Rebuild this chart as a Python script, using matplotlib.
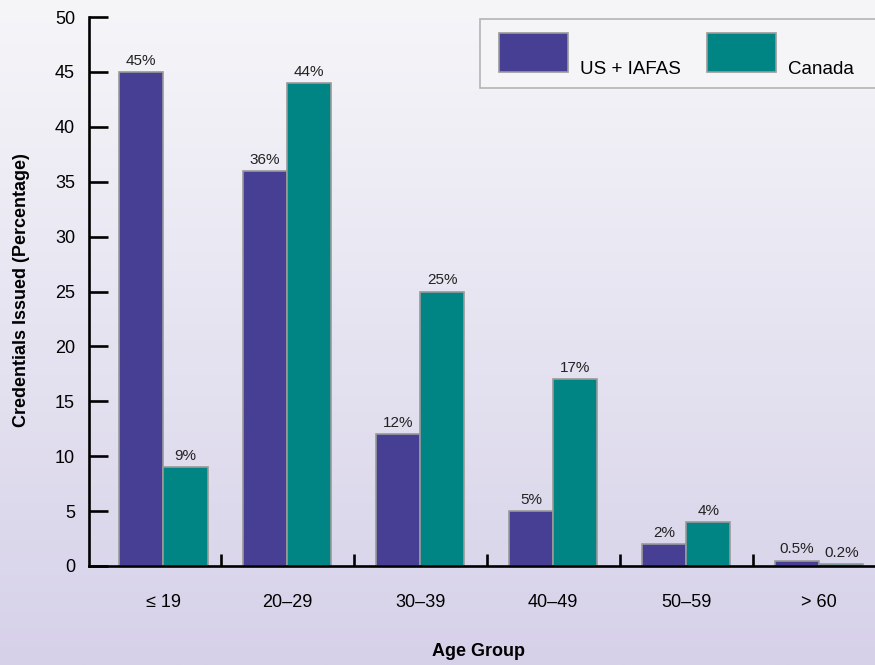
import matplotlib
matplotlib.use("Agg")

import matplotlib.pyplot as plt
import numpy as np
from matplotlib import font_manager
from matplotlib.patches import Rectangle

age_groups = ["\u2264 19", "20\u201329", "30\u201339", "40\u201349", "50\u201359", "> 60"]
us_iafas = [45, 36, 12, 5, 2, 0.5]
canada = [9, 44, 25, 17, 4, 0.2]
us_labels = ["45%", "36%", "12%", "5%", "2%", "0.5%"]
canada_labels = ["9%", "44%", "25%", "17%", "4%", "0.2%"]

PURPLE = "#463F93"
TEAL = "#008484"
EDGE = "#9A9A9A"

installed = {f.name for f in font_manager.fontManager.ttflist}
family = "Liberation Sans Narrow" if "Liberation Sans Narrow" in installed else "Liberation Sans"
plt.rcParams["font.family"] = [family, "DejaVu Sans"]

W, H = 875, 665
fig = plt.figure(figsize=(W / 100, H / 100), dpi=100)

# background gradient, near white at the top to lavender at the bottom
bg = fig.add_axes([0, 0, 1, 1], zorder=-10)
top = np.array([246, 246, 249]) / 255
bot = np.array([214, 209, 233]) / 255
t = np.linspace(0, 1, 256)[:, None]
grad = (top * (1 - t) + bot * t)[:, None, :]
bg.imshow(grad, aspect="auto", extent=[0, 1, 0, 1])
bg.axis("off")

ax = fig.add_axes([89 / W, (H - 566) / H, 1 - 89 / W, (566 - 17) / H])
ax.set_facecolor("none")

# group centres; the first group sits a little closer to the axis in the original
x = np.arange(len(age_groups), dtype=float)
x[0] = 0.07
bw = 1 / 3
b1 = ax.bar(x - bw / 2, us_iafas, bw, color=PURPLE, edgecolor=EDGE, linewidth=1.2, zorder=2)
b2 = ax.bar(x + bw / 2, canada, bw, color=TEAL, edgecolor=EDGE, linewidth=1.2, zorder=2)
ax.bar_label(b1, labels=us_labels, padding=3, fontsize=11, color="#222222")
ax.bar_label(b2, labels=canada_labels, padding=3, fontsize=11, color="#222222")

ax.set_xlim(-0.49, 5.42)
ax.set_ylim(0, 50)

for s in ["top", "right"]:
    ax.spines[s].set_visible(False)
for s in ["left", "bottom"]:
    ax.spines[s].set_linewidth(1.9)
    ax.spines[s].set_color("black")

ax.set_yticks(range(0, 51, 5))
ax.tick_params(axis="y", direction="in", length=14, width=1.9, pad=10, labelsize=13)

ax.set_xticks(x)
ax.set_xticklabels(age_groups)
ax.set_xticks(np.arange(len(age_groups) - 1) + 0.5, minor=True)
ax.tick_params(axis="x", which="major", length=0, pad=20, labelsize=13)
ax.tick_params(axis="x", which="minor", direction="in", length=9, width=1.9)

fig.text(22 / W, 1 - 290 / H, "Credentials Issued (Percentage)", rotation=90,
         ha="center", va="center", fontsize=13, fontweight="bold")
fig.text(478 / W, 1 - 651 / H, "Age Group", ha="center", va="center",
         fontsize=13, fontweight="bold")


def px(x0, y0, w, h):
    return (x0 / W, 1 - (y0 + h) / H), w / W, h / H


# legend box
xy, w, h = px(480, 19, 400, 69)
fig.patches.append(Rectangle(xy, w, h, transform=fig.transFigure, facecolor="#F5F5F8",
                             edgecolor="#B4B4B4", linewidth=1.2, zorder=5))
for (sx, tx, label, col) in [(499, 580, "US + IAFAS", PURPLE), (707, 788, "Canada", TEAL)]:
    xy, w, h = px(sx, 33, 69, 39)
    fig.patches.append(Rectangle(xy, w, h, transform=fig.transFigure, facecolor=col,
                                 edgecolor=EDGE, linewidth=1.2, zorder=6))
    fig.text(tx / W, 1 - 74 / H, label, ha="left", va="baseline", fontsize=13.5, zorder=7)

fig.savefig("out.png", dpi=100)
